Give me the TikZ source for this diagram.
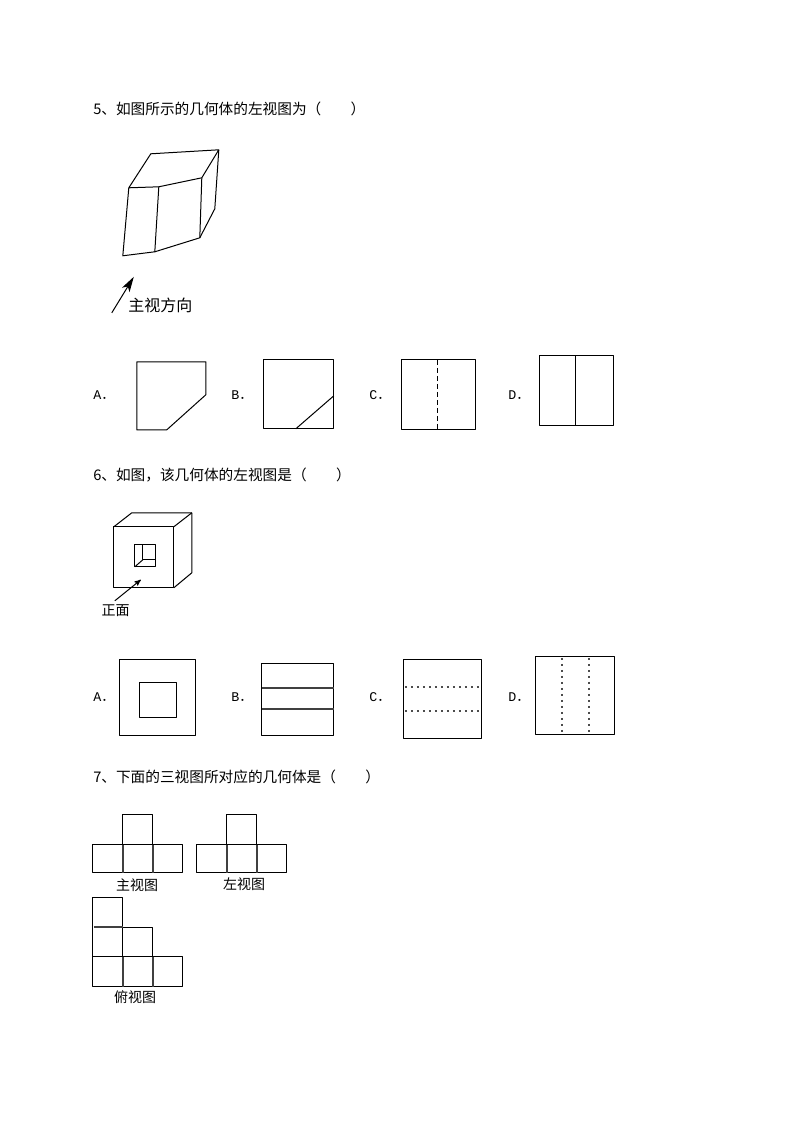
\documentclass[tikz,border=0pt]{standalone}
\usepackage{fontspec}
\newfontfamily\cjk{Noto Sans CJK SC}
\newfontfamily\optfont{Liberation Mono}
\usetikzlibrary{arrows, arrows.meta}
\newcommand{\optlabel}[1]{{\optfont #1}{\cjk ．}}
\tikzstyle{question} = [anchor=west, inner sep=0pt, font=\cjk\fontsize{11pt}{13pt}\selectfont]
\tikzstyle{option} = [anchor=west, inner sep=0pt, font=\fontsize{10pt}{12pt}\selectfont]
\tikzstyle{caption} = [inner sep=0pt, font=\cjk\fontsize{10.5pt}{12pt}\selectfont]
\tikzstyle{edge} = [line width=0.75pt, line join=round]
\tikzstyle{grid_in} = [line width=1.5pt, black!75]
\tikzstyle{dots} = [line width=1.5pt, black!70, dash pattern=on 2pt off 2.5pt]
\tikzstyle{arrow} = [line width=0.75pt,->,>=stealth']
\tikzstyle{arrow_big} = [line width=0.75pt,-{Stealth[length=11.5pt,width=6.5pt,inset=3pt]}]

\begin{document}
\begin{tikzpicture}[x=0.75pt, y=-0.75pt]
		\useasboundingbox (0.2,0.2) rectangle (794.2,1123.2);
		\fill [white] (0.2,0.2) rectangle (794.2,1123.2);

		% question 5
		\node (q5) [question] at (93.2,108.7) {5、如图所示的几何体的左视图为（\hspace{2em}）};
		\draw [edge] (129,188) -- (151,154) -- (219,150) -- (202,178) -- (159,187) -- cycle;
		\draw [edge] (129,188) -- (123,256) -- (155,252) -- (159,187);
		\draw [edge] (155,252) -- (200,238) -- (202,178);
		\draw [edge] (200,238) -- (215,209) -- (219,150);
		\coordinate (q5_tail) at (112,313);
		\coordinate (q5_head) at (134,277);
		\draw [arrow_big] (q5_tail) -- (q5_head);
		\node (q5_view) [question, font=\cjk\fontsize{12pt}{14pt}\selectfont] at (128.2,305.2) {主视方向};

		\node (q5a) [option] at (93.2,395.2) {\optlabel{A}};
		\draw [edge] (137,362) -- (206,362) -- (206,395) -- (167,430) -- (137,430) -- cycle;
		\node (q5b) [option] at (231.2,395.2) {\optlabel{B}};
		\draw [edge] (264,360) rectangle (334,429);
		\draw [edge] (334,396) -- (296,429);
		\node (q5c) [option] at (369.2,395.2) {\optlabel{C}};
		\draw [edge] (402,360) rectangle (476,430);
		\draw [edge, dash pattern=on 4pt off 2pt] (438,360) -- (438,430);
		\node (q5d) [option] at (508.2,395.2) {\optlabel{D}};
		\draw [edge] (540,356) rectangle (614,426);
		\draw [edge] (576,356) -- (576,426);

		% question 6
		\node (q6) [question] at (93.2,475.7) {6、如图，该几何体的左视图是（\hspace{2em}）};
		\draw [edge] (114,527) rectangle (174,588);
		\draw [edge] (114,527) -- (132,513) -- (192,513) -- (192,573) -- (174,588);
		\draw [edge] (174,527) -- (192,513);
		\draw [edge] (135,545) rectangle (156,567);
		\draw [edge] (143,545) -- (143,560) -- (156,560);
		\draw [edge] (143,560) -- (135,567);
		\coordinate (q6_tail) at (115,601);
		\coordinate (q6_head) at (141,580);
		\draw [arrow] (q6_tail) -- (q6_head);
		\node (q6_front) [caption] at (115.7,611.2) {正面};

		\node (q6a) [option] at (93.2,697.2) {\optlabel{A}};
		\draw [edge] (120,660) rectangle (196,736);
		\draw [edge] (140,683) rectangle (177,718);
		\node (q6b) [option] at (231.2,697.2) {\optlabel{B}};
		\draw [edge] (262,664) rectangle (334,736);
		\draw [grid_in] (262,688) -- (334,688);
		\draw [grid_in] (262,709) -- (334,709);
		\node (q6c) [option] at (369.2,697.2) {\optlabel{C}};
		\draw [edge] (404,660) rectangle (482,739);
		\draw [dots] (405,687) -- (481,687);
		\draw [dots] (405,711) -- (481,711);
		\node (q6d) [option] at (508.2,697.2) {\optlabel{D}};
		\draw [edge] (536,657) rectangle (615,735);
		\draw [dots] (562,658) -- (562,734);
		\draw [dots] (589,658) -- (589,734);

		% question 7
		\node (q7) [question] at (93.2,776.7) {7、下面的三视图所对应的几何体是（\hspace{2em}）};
		\draw [edge] (93,845) rectangle (183,873);
		\draw [edge] (123,815) rectangle (153,845);
		\foreach \x in {123,153} \draw [grid_in] (\x,845) -- (\x,873);
		\node (front_view) [caption] at (137.2,885.2) {主视图};

		\draw [edge] (197,845) rectangle (287,873);
		\draw [edge] (227,815) rectangle (257,845);
		\foreach \x in {227,257} \draw [grid_in] (\x,845) -- (\x,873);
		\node (left_view) [caption] at (244.2,884.2) {左视图};

		\draw [edge] (93,957) rectangle (183,987);
		\draw [edge] (93,898) rectangle (123,957);
		\draw [edge] (123,928) rectangle (153,957);
		\draw [grid_in] (94,927) -- (123,927);
		\foreach \x in {123,153} \draw [grid_in] (\x,957) -- (\x,987);
		\node (top_view) [caption] at (135.2,997.2) {俯视图};
\end{tikzpicture}
\end{document}
